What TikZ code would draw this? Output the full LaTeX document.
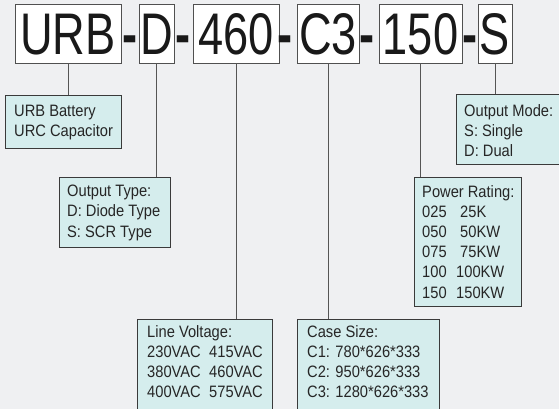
\documentclass[tikz,border=0pt]{standalone}
\usepackage{fontspec}
\setmainfont{Liberation Sans}
\newfontfamily\bigfont[FakeStretch=0.77]{Liberation Sans}
\newfontfamily\labfont[FakeStretch=0.89]{Liberation Sans}
\definecolor{bgc}{HTML}{EFF0F2}
\definecolor{infofill}{HTML}{D5EDED}
\definecolor{infoedge}{HTML}{3A3A3A}
\definecolor{linec}{HTML}{555555}
\definecolor{topedge}{HTML}{505050}
\begin{document}
\begin{tikzpicture}[x=1pt,y=-1pt,
  topbox/.style={draw=topedge,line width=0.9pt,fill=white,inner sep=0pt,minimum height=59pt,
    text height=42pt,text depth=0pt,font=\bigfont\fontsize{58.7}{60}\selectfont,text=black!90},
  hyph/.style={anchor=base,inner sep=0pt,font=\bigfont\bfseries\fontsize{58.7}{60}\selectfont,text=black!90},
  infobox/.style={draw=infoedge,line width=0.9pt,fill=infofill,inner sep=0pt,anchor=north west},
  infotext/.style={anchor=north west,inner sep=0pt,align=left,
    font=\labfont\fontsize{16.5}{20.2}\selectfont,text=black!85},
  conn/.style={draw=linec,line width=0.9pt}]
\useasboundingbox (0,0) rectangle (559,409);
\clip (0,0) rectangle (559,409);
\fill[bgc] (0,0) rectangle (559,409);
% top code boxes
\node[topbox,minimum width=106pt] (urb) at (68,33.5) {URB};
\node[topbox,minimum width=35pt] (d) at (156.5,33.5) {D};
\node[topbox,minimum width=86pt] (v460) at (236,33.5) {460};
\node[topbox,minimum width=62pt] (c3) at (328,33.5) {C3};
\node[topbox,minimum width=83pt] (p150) at (420.5,33.5) {150};
\node[topbox,minimum width=34pt] (s) at (495,33.5) {S};
% hyphens
\node[hyph] (h1) at (130,55) {-};
\node[hyph] (h2) at (183,55) {-};
\node[hyph] (h3) at (285,55) {-};
\node[hyph] (h4) at (367,55) {-};
\node[hyph] (h5) at (470,55) {-};
% info boxes
\node[infobox,minimum width=116pt,minimum height=53pt] (urbinfo) at (5,95) {};
\node[infobox,minimum width=111pt,minimum height=70pt] (typeinfo) at (59,177) {};
\node[infobox,minimum width=135pt,minimum height=100pt] (voltinfo) at (137,319) {};
\node[infobox,minimum width=142pt,minimum height=100pt] (caseinfo) at (297,319) {};
\node[infobox,minimum width=107pt,minimum height=129pt] (powinfo) at (414,177) {};
\node[infobox,minimum width=110pt,minimum height=70pt] (modeinfo) at (456,94) {};
% info texts (first baseline about 12pt below the anchor)
\node[infotext] (urbtxt) at (14,105) {URB Battery\\URC Capacitor};
\node[infotext] (typetxt) at (67,185) {Output Type:\\D: Diode Type\\S: SCR Type};
\node[infotext] (volttxt) at (147,325) {Line Voltage:\\
  \makebox[62pt][l]{230VAC}415VAC\\
  \makebox[62pt][l]{380VAC}460VAC\\
  \makebox[62pt][l]{400VAC}575VAC};
\node[infotext] (casetxt) at (307,325) {Case Size:\\C1: 780*626*333\\C2: 950*626*333\\C3: 1280*626*333};
\node[infotext] (powtxt) at (422,185) {Power Rating:\\
  \makebox[38pt][l]{025}25K\\
  \makebox[38pt][l]{050}50KW\\
  \makebox[38pt][l]{075}75KW\\
  \makebox[34pt][l]{100}100KW\\
  \makebox[34pt][l]{150}150KW};
\node[infotext] (modetxt) at (464,104) {Output Mode:\\S: Single\\D: Dual};
% connectors
\draw[conn] (urb.south) -- (urb.south |- urbinfo.north);
\draw[conn] (d.south) -- (d.south |- typeinfo.north);
\draw[conn] (v460.south) -- (v460.south |- voltinfo.north);
\draw[conn] (c3.south) -- (c3.south |- caseinfo.north);
\draw[conn] (p150.south) -- (p150.south |- powinfo.north);
\draw[conn] (s.south) -- (s.south |- modeinfo.north);
\end{tikzpicture}
\end{document}
